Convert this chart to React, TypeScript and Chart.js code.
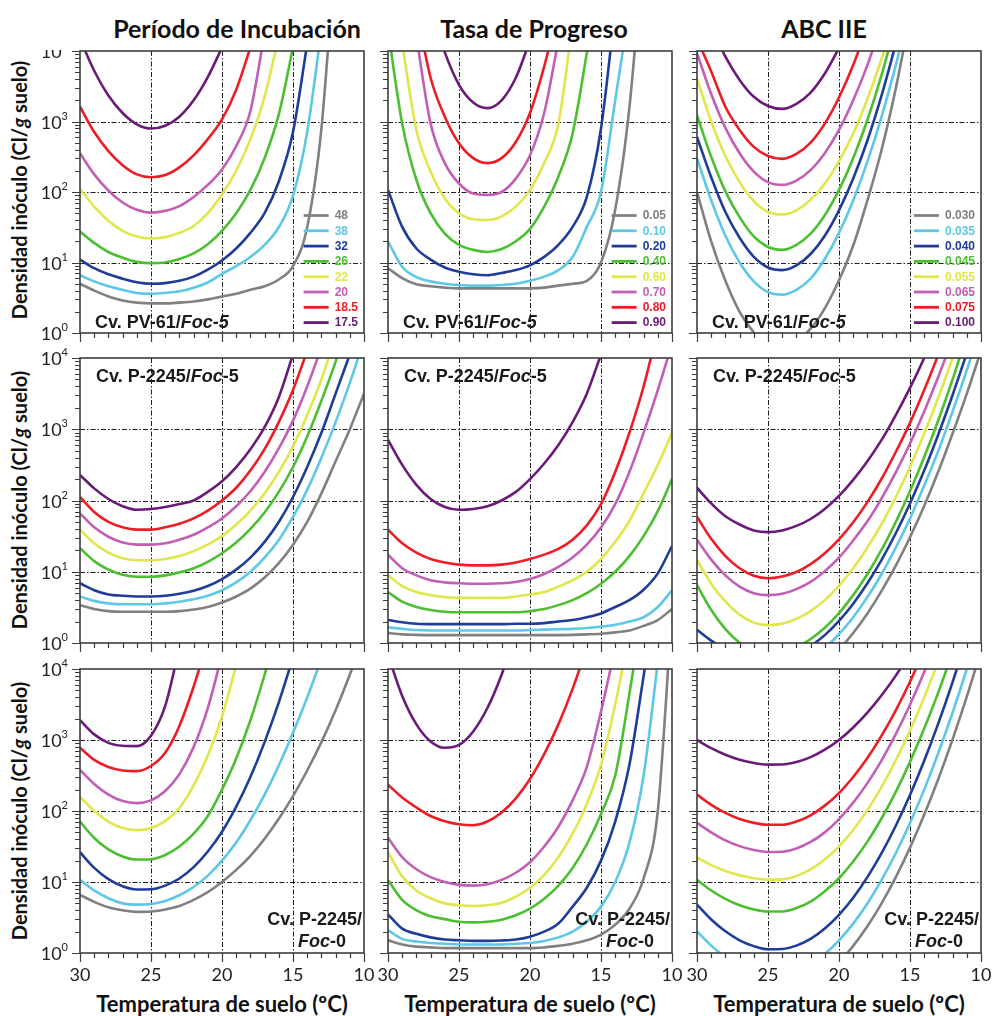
import React, { useEffect, useRef } from "react";
import { Chart, registerables } from "chart.js";
Chart.register(...registerables);

const _ = null;

// Soil temperature (ºC) at which each curve value is read
const TEMPS = [30, 29, 28, 27, 26, 25, 24, 23, 22, 21, 20, 19, 18, 17, 16, 15, 14, 13, 12, 11, 10];

// Legend labels (iso-lines), order: gray, cyan, blue, green, yellow, pink, red, purple
const INC_LABELS = ["48", "38", "32", "26", "22", "20", "18.5", "17.5"];
const TASA_LABELS = ["0.05", "0.10", "0.20", "0.40", "0.60", "0.70", "0.80", "0.90"];
const ABC_LABELS = ["0.030", "0.035", "0.040", "0.045", "0.055", "0.065", "0.075", "0.100"];

const COLORS = ["#808080", "#5dc8e6", "#1f3c99", "#4cbf30", "#dfe74a", "#c25fb5", "#ee1c25", "#6a1b78"];

// ---- Row 1: Cv. PV-61 / Foc-5 (inoculum density, CI/g soil) ----
const INC_PV61 = [
  [5.0, 4.0, 3.3, 2.9, 2.7, 2.63, 2.63, 2.7, 2.8, 3.0, 3.3, 3.6, 4.1, 4.6, 5.75, 8.9, 31.6, 794, 316000, _, _],
  [6.6, 5.4, 4.6, 4.1, 3.7, 3.6, 3.7, 3.9, 4.4, 5.2, 6.9, 8.9, 12, 17.8, 31.6, 89, 708, 20000, _, _, _],
  [11, 8.3, 6.8, 5.9, 5.25, 5.0, 5.1, 5.5, 6.3, 7.9, 10.7, 15.8, 26.3, 50, 141, 708, 12600, _, _, _, _],
  [27.5, 19, 14.1, 11.7, 10.2, 9.8, 10, 11.2, 13.5, 18.2, 28.2, 50, 107, 302, 1260, 11200, _, _, _, _, _],
  [110, 62, 39, 28, 23.4, 21.9, 22.9, 26.3, 33, 50, 93, 200, 562, 2240, 15800, _, _, _, _, _, _],
  [355, 178, 105, 71, 56, 51, 54, 63, 85, 126, 209, 447, 1410, 17800, _, _, _, _, _, _, _],
  [1620, 708, 380, 240, 178, 162, 174, 224, 331, 562, 1070, 2820, 11200, _, _, _, _, _, _, _, _],
  [14800, 5250, 2340, 1320, 912, 794, 871, 1170, 2000, 4270, 11200, _, _, _, _, _, _, _, _, _, _],
];
const TASA_PV61 = [
  [8.3, 6.0, 4.9, 4.6, 4.4, 4.3, 4.3, 4.3, 4.3, 4.3, 4.3, 4.4, 4.7, 5.0, 5.5, 10, 56, 1580, 316000, _, _],
  [20, 8.7, 6.2, 5.4, 5.0, 4.8, 4.7, 4.7, 4.8, 5.0, 5.5, 6.3, 7.8, 12, 32, 100, 2000, 40000, _, _, _],
  [107, 32, 15.8, 11, 8.5, 7.4, 6.8, 6.6, 7.1, 7.8, 9.1, 12, 17.8, 32, 85, 794, 40000, _, _, _, _],
  [20000, 933, 148, 50, 25.7, 17.8, 15.1, 14.1, 15.5, 20, 30, 62, 166, 676, 9330, 160000, _, _, _, _, _],
  [_, 12600, 759, 195, 81, 50, 41, 40, 45, 62, 107, 257, 933, 25000, _, _, _, _, _, _, _],
  [_, _, 15800, 933, 257, 132, 95, 91, 100, 155, 331, 1320, 14100, _, _, _, _, _, _, _, _],
  [_, _, 40000, 4170, 1170, 490, 302, 257, 302, 513, 1320, 6030, 40000, _, _, _, _, _, _, _, _],
  [_, _, _, 40000, 9550, 3310, 1860, 1550, 2000, 4170, 14100, _, _, _, _, _, _, _, _, _, _],
];
const ABC_PV61 = [
  [100, 20, 5.5, 2.0, 1.02, 0.69, 0.63, 0.76, 1.15, 2.24, 5.6, 17.4, 76, 398, 2950, 31600, _, _, _, _, _],
  [302, 76, 24, 10, 5.4, 3.8, 3.5, 4.1, 5.9, 11.2, 26.3, 76, 269, 1170, 6310, 40000, _, _, _, _, _],
  [603, 162, 52, 22.4, 12, 8.5, 7.8, 9.1, 13.2, 24, 55, 155, 537, 2340, 12600, _, _, _, _, _, _],
  [1230, 316, 102, 44, 23.4, 16.6, 15.1, 17.8, 25.7, 46.8, 107, 302, 1050, 4570, 25100, _, _, _, _, _, _],
  [4070, 1000, 324, 138, 74, 52, 48, 55, 78, 132, 275, 676, 2090, 7760, 31600, _, _, _, _, _, _],
  [9330, 2450, 813, 355, 195, 138, 126, 145, 204, 355, 759, 2000, 6310, 25100, _, _, _, _, _, _, _],
  [14800, 5130, 1620, 759, 437, 324, 295, 347, 501, 933, 2190, 6310, 22400, _, _, _, _, _, _, _, _],
  [_, 22400, 8300, 3890, 2240, 1660, 1510, 1780, 2570, 4790, 11000, _, _, _, _, _, _, _, _, _, _],
];

// ---- Row 2: Cv. P-2245 / Foc-5 ----
const INC_P2245_F5 = [
  [3.4, 3.0, 2.8, 2.75, 2.75, 2.75, 2.75, 2.8, 2.95, 3.2, 3.7, 4.5, 5.8, 8.3, 13.2, 24, 50, 126, 355, 1000, 3160],
  [4.5, 3.9, 3.6, 3.5, 3.5, 3.5, 3.6, 3.8, 4.1, 4.6, 5.5, 7.1, 10, 15.8, 28, 59, 141, 398, 1260, 4470, 17800],
  [6.9, 5.5, 4.8, 4.6, 4.5, 4.5, 4.6, 4.9, 5.4, 6.3, 7.9, 10.7, 15.8, 26.3, 50, 112, 295, 891, 3160, 11200, _],
  [21.4, 14.1, 10.7, 9.1, 8.5, 8.5, 8.9, 9.8, 11.2, 13.8, 18.2, 25.7, 40, 68, 132, 295, 794, 2510, 8910, 40000, _],
  [39, 25.1, 18.6, 15.5, 14.5, 14.5, 15.1, 16.6, 19.5, 24, 31.6, 46, 72, 126, 251, 575, 1580, 5010, 20000, _, _],
  [66, 42, 31, 25.7, 24, 24, 25.1, 28.2, 33, 42, 56, 83, 135, 251, 537, 1320, 3980, 14100, _, _, _],
  [112, 69, 50, 42, 39, 39, 42, 47, 56, 72, 100, 151, 263, 525, 1260, 3550, 12600, _, _, _, _],
  [229, 148, 105, 83, 74, 76, 81, 89, 100, 132, 186, 295, 525, 1070, 2820, 11200, _, _, _, _, _],
];
const TASA_P2245_F5 = [
  [1.38, 1.32, 1.3, 1.29, 1.29, 1.29, 1.29, 1.29, 1.29, 1.29, 1.29, 1.29, 1.29, 1.3, 1.32, 1.35, 1.41, 1.5, 1.74, 2.1, 3.0],
  [1.66, 1.58, 1.52, 1.5, 1.5, 1.5, 1.5, 1.5, 1.5, 1.5, 1.52, 1.54, 1.56, 1.58, 1.62, 1.7, 1.8, 2.0, 2.3, 3.2, 5.5],
  [2.1, 1.95, 1.86, 1.84, 1.84, 1.84, 1.84, 1.84, 1.84, 1.86, 1.86, 1.9, 2.0, 2.1, 2.3, 2.6, 3.2, 4.0, 5.6, 9.5, 23],
  [5.2, 3.8, 3.2, 2.9, 2.75, 2.7, 2.7, 2.7, 2.7, 2.7, 2.8, 3.0, 3.4, 4.0, 5.0, 6.8, 10, 16.6, 31.6, 71, 200],
  [8.9, 6.3, 5.2, 4.7, 4.4, 4.3, 4.3, 4.3, 4.3, 4.5, 4.8, 5.2, 6.2, 7.6, 10, 15.1, 26.3, 52, 126, 316, 891],
  [17.4, 11.2, 8.9, 7.6, 7.1, 6.9, 6.8, 6.8, 6.9, 7.2, 7.9, 9.3, 11.7, 15.8, 24, 41.7, 89, 251, 891, 3550, 15800],
  [39, 25.1, 18.6, 15.1, 13.5, 12.6, 12.3, 12.3, 12.6, 13.5, 15.1, 17.4, 20.9, 28.2, 44.7, 89, 251, 891, 3980, 25100, _],
  [708, 316, 166, 105, 81, 74, 76, 83, 100, 132, 200, 331, 603, 1260, 3160, 11200, _, _, _, _, _],
];
const ABC_P2245_F5 = [
  [0.575, 0.42, 0.33, 0.28, 0.25, 0.24, 0.25, 0.29, 0.375, 0.53, 0.81, 1.38, 2.6, 5.4, 12.2, 30.5, 84, 257, 871, 3160, 12600],
  [0.9, 0.66, 0.52, 0.44, 0.39, 0.38, 0.4, 0.46, 0.6, 0.85, 1.33, 2.3, 4.4, 9.3, 21.9, 56, 162, 501, 1780, 6760, 28800],
  [1.53, 1.08, 0.82, 0.67, 0.6, 0.575, 0.6, 0.7, 0.91, 1.29, 2.04, 3.56, 6.9, 14.7, 34.7, 91, 263, 851, 3020, 11700, _],
  [6.5, 2.9, 1.57, 1.01, 0.77, 0.71, 0.75, 0.87, 1.14, 1.64, 2.63, 4.7, 9.3, 20.4, 50, 135, 407, 1350, 5000, 21000, _],
  [14.5, 6.8, 3.8, 2.5, 1.93, 1.78, 1.87, 2.18, 2.8, 4.0, 6.4, 11.2, 21.9, 46.8, 112, 295, 871, 2820, 10000, 40000, _],
  [28.2, 14.8, 8.9, 6.2, 5.0, 4.7, 4.9, 5.7, 7.2, 10.2, 15.8, 27.5, 51, 107, 248, 631, 1780, 5500, 18600, _, _],
  [59, 29, 16.6, 11.2, 8.8, 8.1, 8.6, 9.9, 12.8, 18.2, 28.5, 49.5, 95, 202, 479, 1230, 3550, 11200, 38900, _, _],
  [151, 91, 60, 46, 38, 36, 38, 44, 55, 76, 116, 195, 355, 708, 1580, 3800, 10000, 29500, _, _, _],
];

// ---- Row 3: Cv. P-2245 / Foc-0 ----
const INC_P2245_F0 = [
  [6.6, 5.25, 4.4, 4.0, 3.8, 3.85, 4.1, 4.6, 5.6, 7.2, 10, 14.8, 23.4, 40.7, 77.6, 162, 372, 933, 2630, 8320, 29500],
  [10.7, 7.6, 5.9, 5.0, 4.8, 4.9, 5.4, 6.5, 8.5, 12.3, 20, 36, 74, 170, 437, 1260, 3980, 13800, _, _, _],
  [26.3, 15.8, 11, 8.7, 7.85, 7.9, 8.9, 11.2, 16.2, 26.9, 51, 115, 302, 933, 3390, 14500, _, _, _, _, _],
  [71, 41.7, 28.8, 22.9, 20.7, 20.9, 24, 31.6, 47.9, 85, 200, 550, 1900, 8300, 44700, _, _, _, _, _, _],
  [158, 100, 71, 57.5, 53.7, 57.5, 72, 110, 229, 603, 2140, 11200, _, _, _, _, _, _, _, _, _],
  [380, 240, 170, 138, 129, 141, 191, 331, 794, 2820, 15800, _, _, _, _, _, _, _, _, _, _],
  [776, 525, 417, 372, 364, 430, 661, 1580, 5620, 25100, _, _, _, _, _, _, _, _, _, _, _],
  [1910, 1200, 912, 830, 820, 1150, 3020, 20000, _, _, _, _, _, _, _, _, _, _, _, _, _],
];
const TASA_P2245_F0 = [
  [1.51, 1.32, 1.23, 1.2, 1.17, 1.17, 1.17, 1.17, 1.17, 1.17, 1.17, 1.2, 1.26, 1.35, 1.51, 1.82, 2.5, 4.2, 11.2, 100, 72000],
  [2.1, 1.58, 1.45, 1.38, 1.35, 1.32, 1.32, 1.32, 1.32, 1.35, 1.38, 1.48, 1.66, 2.0, 2.75, 4.5, 10, 35.5, 316, 12600, 630000],
  [3.5, 2.2, 1.86, 1.66, 1.55, 1.51, 1.48, 1.48, 1.5, 1.55, 1.7, 2.0, 2.6, 4.5, 8.3, 20, 71, 447, 7940, 158000, _],
  [10.7, 5.6, 4.0, 3.3, 3.0, 2.75, 2.7, 2.75, 2.95, 3.4, 4.2, 5.8, 8.9, 15.8, 34, 91, 316, 4470, 79400, _, _],
  [26.3, 12, 7.6, 5.9, 5.0, 4.7, 4.6, 4.7, 5.1, 6.2, 8.3, 12.6, 22.4, 48, 126, 447, 3160, 31600, _, _, _],
  [42, 22.4, 15.1, 11.7, 10, 9.1, 8.9, 9.3, 10.7, 13.5, 19, 31.6, 60, 141, 417, 2510, 20000, _, _, _, _],
  [234, 155, 112, 85, 72, 65, 63, 71, 95, 151, 282, 631, 1660, 5250, 20000, _, _, _, _, _, _],
  [15800, 4170, 1660, 955, 776, 851, 1320, 2820, 8320, 31600, _, _, _, _, _, _, _, _, _, _, _],
];
const ABC_P2245_F0 = [
  [1.01, 0.64, 0.44, 0.33, 0.28, 0.25, 0.25, 0.28, 0.35, 0.48, 0.74, 1.26, 2.38, 5.0, 11.7, 30.5, 88.5, 285, 1020, 4070, 18100],
  [2.02, 1.27, 0.88, 0.67, 0.56, 0.51, 0.51, 0.57, 0.7, 0.97, 1.51, 2.59, 4.98, 10.7, 25.4, 67.6, 200, 662, 2440, 10000, 45700],
  [4.8, 2.96, 2.02, 1.51, 1.25, 1.13, 1.14, 1.27, 1.58, 2.21, 3.45, 6.0, 11.7, 25.5, 62, 168, 509, 1730, 6550, 27700, _],
  [10.7, 7.6, 5.8, 4.7, 4.1, 3.84, 3.85, 4.3, 5.3, 7.4, 11.3, 19.4, 37, 79, 186, 492, 1450, 4730, 17200, _, _],
  [22, 17.3, 14.3, 12.4, 11.3, 10.8, 10.9, 12.1, 15, 20.7, 31.8, 54, 103, 219, 516, 1360, 3970, 12900, _, _, _],
  [68, 50, 38.6, 32, 28.2, 26.5, 26.7, 29.6, 36.6, 50, 77, 131, 247, 518, 1210, 3130, 9040, 29000, _, _, _],
  [170, 122, 94, 77, 68, 64, 64, 71, 87, 119, 179, 301, 557, 1150, 2620, 6610, 18600, _, _, _, _],
  [1000, 767, 620, 527, 474, 450, 451, 489, 574, 730, 1000, 1500, 2430, 4260, 8070, 16600, _, _, _, _, _],
];

const COLUMN_TITLES = ["Período de Incubación", "Tasa de Progreso", "ABC IIE"];
const X_TICKS = [30, 25, 20, 15, 10];
const GRID_T = [25, 20, 15];
const GRID_V = [10, 100, 1000];

// layout (pixels)
const COL_LEFT = [80, 388, 697];
const ROW_TOP = [51, 358, 669];
const ROW_H = [282, 285, 284];
const PLOT_W = 284;
const PAD_L = 62;
const PAD_R = 12;
const PAD_B = 44;

type Part = { t: string; i: boolean };
type Note = { lines: Part[][]; pos: "bl" | "tl" | "br" };
type Panel = { row: number; col: number; series: (number | null)[][]; labels: string[] | null; note: Note };

const noteRow1: Note = { pos: "bl", lines: [[{ t: "Cv. PV-61/", i: false }, { t: "Foc-5", i: true }]] };
const noteRow2: Note = { pos: "tl", lines: [[{ t: "Cv. P-2245/", i: false }, { t: "Foc", i: true }, { t: "-5", i: false }]] };
const noteRow3: Note = { pos: "br", lines: [[{ t: "Cv. P-2245/", i: false }], [{ t: "Foc", i: true }, { t: "-0", i: false }]] };

const PANELS: Panel[] = [
  { row: 0, col: 0, series: INC_PV61, labels: INC_LABELS, note: noteRow1 },
  { row: 0, col: 1, series: TASA_PV61, labels: TASA_LABELS, note: noteRow1 },
  { row: 0, col: 2, series: ABC_PV61, labels: ABC_LABELS, note: noteRow1 },
  { row: 1, col: 0, series: INC_P2245_F5, labels: null, note: noteRow2 },
  { row: 1, col: 1, series: TASA_P2245_F5, labels: null, note: noteRow2 },
  { row: 1, col: 2, series: ABC_P2245_F5, labels: null, note: noteRow2 },
  { row: 2, col: 0, series: INC_P2245_F0, labels: null, note: noteRow3 },
  { row: 2, col: 1, series: TASA_P2245_F0, labels: null, note: noteRow3 },
  { row: 2, col: 2, series: ABC_P2245_F0, labels: null, note: noteRow3 },
];

const SUP = ["0", "1", "2", "3", "4"];
const NOTE_FONT = 18;

const decor = {
  id: "panelDecor",
  beforeDatasetsDraw(chart: any) {
    const { ctx, chartArea: a } = chart;
    const xs = chart.scales.x;
    const ys = chart.scales.y;
    ctx.save();
    ctx.strokeStyle = "#1e1e1e";
    ctx.lineWidth = 1;
    ctx.setLineDash([5, 2, 1.5, 2]);
    ctx.beginPath();
    for (const t of GRID_T) {
      const px = Math.round(xs.getPixelForValue(t)) + 0.5;
      ctx.moveTo(px, a.top);
      ctx.lineTo(px, a.bottom);
    }
    for (const v of GRID_V) {
      const py = Math.round(ys.getPixelForValue(v)) + 0.5;
      ctx.moveTo(a.left, py);
      ctx.lineTo(a.right, py);
    }
    ctx.stroke();
    ctx.restore();
  },
  afterDraw(chart: any, _args: any, o: any) {
    const { ctx, chartArea: a } = chart;
    const xs = chart.scales.x;
    const ys = chart.scales.y;
    ctx.save();
    // frame
    ctx.strokeStyle = "#3c3c3c";
    ctx.lineWidth = 1.6;
    ctx.strokeRect(a.left, a.top, a.right - a.left, a.bottom - a.top);
    // ticks
    ctx.lineWidth = 1.2;
    ctx.beginPath();
    for (let t = 10; t <= 30; t++) {
      const px = Math.round(xs.getPixelForValue(t)) + 0.5;
      const len = t % 5 === 0 ? 9 : 5;
      ctx.moveTo(px, a.bottom);
      ctx.lineTo(px, a.bottom + len);
    }
    for (let d = 0; d <= 4; d++) {
      const base = Math.pow(10, d);
      const py = Math.round(ys.getPixelForValue(base)) + 0.5;
      ctx.moveTo(a.left - 8, py);
      ctx.lineTo(a.left, py);
      if (d < 4) {
        for (let m = 2; m <= 9; m++) {
          const pm = Math.round(ys.getPixelForValue(m * base)) + 0.5;
          ctx.moveTo(a.left - 5, pm);
          ctx.lineTo(a.left, pm);
        }
      }
    }
    ctx.stroke();

    ctx.fillStyle = "#222";
    if (o.showY) {
      for (let d = 0; d <= 4; d++) {
        const py = ys.getPixelForValue(Math.pow(10, d));
        ctx.font = "11px Lato";
        ctx.textAlign = "right";
        ctx.textBaseline = "alphabetic";
        const sx = a.left - 12;
        ctx.fillText(SUP[d], sx, py - 2);
        const sw = ctx.measureText(SUP[d]).width;
        ctx.font = "18px Lato";
        ctx.fillText("10", sx - sw, py + 7);
      }
    }
    if (o.showX) {
      ctx.font = "18px Lato";
      ctx.textAlign = "center";
      ctx.textBaseline = "middle";
      for (const t of X_TICKS) {
        ctx.fillText(String(t), xs.getPixelForValue(t), a.bottom + 22);
      }
    }
    // legend
    if (o.labels) {
      ctx.font = "bold 12px 'Liberation Sans'";
      let maxW = 0;
      for (const l of o.labels) maxW = Math.max(maxW, ctx.measureText(l).width);
      const tx = a.right - 6 - maxW;
      ctx.textAlign = "left";
      ctx.textBaseline = "middle";
      o.labels.forEach((l: string, k: number) => {
        const yy = a.bottom - 117.5 + k * 15.3;
        ctx.strokeStyle = COLORS[k];
        ctx.lineWidth = 2.8;
        ctx.beginPath();
        ctx.moveTo(tx - 31, yy);
        ctx.lineTo(tx - 6, yy);
        ctx.stroke();
        ctx.fillStyle = COLORS[k];
        ctx.fillText(l, tx, yy + 0.5);
      });
    }
    // annotation
    const note: Note = o.note;
    ctx.fillStyle = "#1a1a1a";
    ctx.textBaseline = "alphabetic";
    ctx.textAlign = "left";
    const fontOf = (i: boolean) =>
      i ? `italic bold ${NOTE_FONT}px 'Liberation Sans'` : `bold ${NOTE_FONT}px 'Liberation Sans'`;
    const widthOf = (line: Part[]) =>
      line.reduce((s, p) => {
        ctx.font = fontOf(p.i);
        return s + ctx.measureText(p.t).width;
      }, 0);
    const drawLine = (line: Part[], x0: number, y0: number) => {
      let x = x0;
      for (const p of line) {
        ctx.font = fontOf(p.i);
        ctx.fillText(p.t, x, y0);
        x += ctx.measureText(p.t).width;
      }
    };
    if (note.pos === "bl") drawLine(note.lines[0], a.left + 15, a.bottom - 5);
    else if (note.pos === "tl") drawLine(note.lines[0], a.left + 16, a.top + 24);
    else {
      const w0 = widthOf(note.lines[0]);
      drawLine(note.lines[0], a.right - 2 - w0, a.bottom - 28);
      const w1 = widthOf(note.lines[1]);
      drawLine(note.lines[1], a.right - 18 - w1, a.bottom - 6);
    }
    ctx.restore();
  },
};

export default function App() {
  const refs = useRef<(HTMLCanvasElement | null)[]>([]);

  useEffect(() => {
    const charts = PANELS.map((p, i) => {
      const canvas = refs.current[i] as HTMLCanvasElement;
      const padT = p.row === 0 ? 1 : 10;
      return new Chart(canvas, {
        type: "line",
        data: {
          datasets: p.series.map((s, k) => ({
            data: s.map((v, j) => ({ x: TEMPS[j], y: v })),
            borderColor: COLORS[k],
            backgroundColor: COLORS[k],
            borderWidth: 2.6,
            pointRadius: 0,
            fill: false,
            spanGaps: false,
            cubicInterpolationMode: "monotone",
            clip: 0,
          })) as any,
        },
        options: {
          responsive: false,
          animation: false,
          devicePixelRatio: 1,
          layout: { padding: { top: padT, right: PAD_R, left: 0, bottom: 0 } },
          elements: { line: { capBezierPoints: false } as any, point: { radius: 0 } },
          scales: {
            x: {
              type: "linear",
              reverse: true,
              min: 10,
              max: 30,
              ticks: { display: false },
              grid: { display: false, drawTicks: false },
              border: { display: false },
              afterFit: (s: any) => {
                s.height = PAD_B;
              },
            },
            y: {
              type: "logarithmic",
              min: 1,
              max: 10000,
              ticks: { display: false },
              grid: { display: false, drawTicks: false },
              border: { display: false },
              afterFit: (s: any) => {
                s.width = PAD_L;
              },
            },
          },
          plugins: {
            legend: { display: false },
            tooltip: { enabled: false },
            panelDecor: { showY: p.col === 0, showX: p.row === 2, labels: p.labels, note: p.note },
          } as any,
        },
        plugins: [decor],
      } as any);
    });
    return () => charts.forEach((c) => c.destroy());
  }, []);

  const yTitleCenters = [190, 500, 811];
  const titleCenters = [237, 534, 824];

  return (
    <div style={{ position: "absolute", left: 0, top: 0, width: 992, height: 1016, background: "#fff", overflow: "hidden" }}>
      {COLUMN_TITLES.map((t, c) => (
        <div
          key={"t" + c}
          style={{
            position: "absolute",
            left: titleCenters[c] - 160,
            width: 320,
            top: 13,
            lineHeight: "30px",
            textAlign: "center",
            font: "bold 25px Lato",
            color: "#111",
            whiteSpace: "nowrap",
          }}
        >
          {t}
        </div>
      ))}
      {yTitleCenters.map((cy, r) => (
        <div
          key={"y" + r}
          style={{
            position: "absolute",
            left: 19,
            top: cy,
            width: 320,
            transform: "translate(-50%, -50%) rotate(-90deg)",
            textAlign: "center",
            font: "bold 20px Lato",
            lineHeight: "24px",
            color: "#111",
            whiteSpace: "nowrap",
          }}
        >
          Densidad inóculo (Cl/<i>g</i> suelo)
        </div>
      ))}
      {COL_LEFT.map((l, c) => (
        <div
          key={"x" + c}
          style={{
            position: "absolute",
            left: l - 20,
            width: PLOT_W + 40,
            top: 990,
            lineHeight: "28px",
            textAlign: "center",
            font: "bold 22px Lato",
            color: "#111",
            whiteSpace: "nowrap",
          }}
        >
          Temperatura de suelo (ºC)
        </div>
      ))}
      {PANELS.map((p, i) => {
        const padT = p.row === 0 ? 1 : 10;
        return (
          <canvas
            key={"c" + i}
            ref={(el) => {
              refs.current[i] = el;
            }}
            width={PAD_L + PLOT_W + PAD_R}
            height={padT + ROW_H[p.row] + PAD_B}
            style={{ position: "absolute", left: COL_LEFT[p.col] - PAD_L, top: ROW_TOP[p.row] - padT }}
          />
        );
      })}
    </div>
  );
}
